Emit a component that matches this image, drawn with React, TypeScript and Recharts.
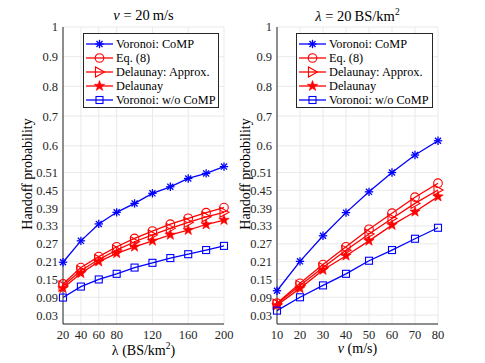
import React from "react";
import { LineChart, Line, XAxis, YAxis, CartesianGrid, Legend } from "recharts";

// left panel: v = 20 m/s, x = BS density
const lambdaX = [20, 40, 60, 80, 100, 120, 140, 160, 180, 200];
const lambdaTicks = [20, 40, 60, 80, 120, 160, 200];
const lamVoronoiComp = [0.208, 0.28, 0.337, 0.376, 0.406, 0.44, 0.462, 0.49, 0.507, 0.53];
const lamEq8 = [0.135, 0.19, 0.227, 0.26, 0.288, 0.313, 0.336, 0.356, 0.375, 0.392];
const lamDelApprox = [0.128, 0.18, 0.217, 0.249, 0.277, 0.3, 0.322, 0.342, 0.361, 0.376];
const lamDelaunay = [0.12, 0.171, 0.21, 0.238, 0.26, 0.28, 0.3, 0.316, 0.335, 0.35];
const lamVoronoiNoComp = [0.089, 0.126, 0.15, 0.169, 0.19, 0.206, 0.222, 0.235, 0.249, 0.263];

// right panel: lambda = 20 BS/km^2, x = speed
const speedX = [10, 20, 30, 40, 50, 60, 70, 80];
const spdVoronoiComp = [0.112, 0.211, 0.297, 0.375, 0.445, 0.51, 0.569, 0.617];
const spdEq8 = [0.07, 0.137, 0.2, 0.26, 0.319, 0.373, 0.427, 0.474];
const spdDelApprox = [0.067, 0.13, 0.19, 0.248, 0.303, 0.355, 0.406, 0.451];
const spdDelaunay = [0.063, 0.12, 0.182, 0.23, 0.28, 0.333, 0.378, 0.429];
const spdVoronoiNoComp = [0.045, 0.09, 0.13, 0.169, 0.213, 0.249, 0.287, 0.324];

const yTicks = [0.03, 0.09, 0.15, 0.21, 0.27, 0.33, 0.39, 0.45, 0.51, 0.6, 0.7, 0.8, 0.9, 1];

const FONT = "'Liberation Serif', 'Times New Roman', Times, 'DejaVu Serif', serif";
const BLUE = "#0000ff";
const RED = "#ff0000";
const AXIS = "#262626";

type Shape = "asterisk" | "circle" | "triangle" | "star" | "square";

const seriesDefs: { key: string; name: string; color: string; shape: Shape }[] = [
  { key: "vc", name: "Voronoi: CoMP", color: BLUE, shape: "asterisk" },
  { key: "eq", name: "Eq. (8)", color: RED, shape: "circle" },
  { key: "da", name: "Delaunay: Approx.", color: RED, shape: "triangle" },
  { key: "de", name: "Delaunay", color: RED, shape: "star" },
  { key: "vn", name: "Voronoi: w/o CoMP", color: BLUE, shape: "square" },
];

function Marker({ x, y, shape, color }: { x: number; y: number; shape: Shape; color: string }) {
  if (shape === "asterisk") {
    const r = 4.2;
    const d = r * 0.72;
    return (
      <g stroke={color} strokeWidth={1.3}>
        <line x1={x - r} y1={y} x2={x + r} y2={y} />
        <line x1={x} y1={y - r} x2={x} y2={y + r} />
        <line x1={x - d} y1={y - d} x2={x + d} y2={y + d} />
        <line x1={x - d} y1={y + d} x2={x + d} y2={y - d} />
      </g>
    );
  }
  if (shape === "circle") {
    return <circle cx={x} cy={y} r={4.3} fill="none" stroke={color} strokeWidth={1.1} />;
  }
  if (shape === "triangle") {
    const pts = `${x + 5},${y} ${x - 4},${y - 5} ${x - 4},${y + 5}`;
    return <polygon points={pts} fill="none" stroke={color} strokeWidth={1.1} />;
  }
  if (shape === "star") {
    const pts: string[] = [];
    for (let i = 0; i < 10; i++) {
      const r = i % 2 === 0 ? 5.5 : 2.2;
      const a = -Math.PI / 2 + (i * Math.PI) / 5;
      pts.push(`${x + r * Math.cos(a)},${y + r * Math.sin(a)}`);
    }
    return <polygon points={pts.join(" ")} fill={color} stroke={color} strokeWidth={0.6} />;
  }
  return <rect x={x - 3.5} y={y - 3.5} width={7} height={7} fill="none" stroke={color} strokeWidth={1.1} />;
}

function LegendBox() {
  return (
    <div
      style={{
        border: `1px solid ${AXIS}`,
        background: "#fff",
        boxSizing: "border-box",
        width: "100%",
        height: "100%",
        padding: "3px 0 0 0",
        fontFamily: FONT,
        fontSize: 12.3,
        color: "#000",
      }}
    >
      {seriesDefs.map((s) => (
        <div key={s.key} style={{ display: "flex", alignItems: "center", height: 14 }}>
          <svg width={32} height={14} style={{ flex: "none" }}>
            <line x1={2} y1={7} x2={29} y2={7} stroke={s.color} strokeWidth={1.3} />
            <Marker x={15.5} y={7} shape={s.shape} color={s.color} />
          </svg>
          <span style={{ whiteSpace: "nowrap", lineHeight: "14px" }}>{s.name}</span>
        </div>
      ))}
    </div>
  );
}

function buildRows(xs: number[], cols: number[][]) {
  return xs.map((x, i) => ({
    x,
    vc: cols[0][i],
    eq: cols[1][i],
    da: cols[2][i],
    de: cols[3][i],
    vn: cols[4][i],
  }));
}

const leftData = buildRows(lambdaX, [lamVoronoiComp, lamEq8, lamDelApprox, lamDelaunay, lamVoronoiNoComp]);
const rightData = buildRows(speedX, [spdVoronoiComp, spdEq8, spdDelApprox, spdDelaunay, spdVoronoiNoComp]);

const tickStyle = { fill: AXIS, fontSize: 12.5, fontFamily: FONT };

interface PanelProps {
  data: any[];
  width: number;
  yAxisWidth: number;
  marginRight: number;
  domain: [number, number];
  xTicks: number[];
  legendLeft: number;
  legendWidth: number;
}

function Panel({ data, width, yAxisWidth, marginRight, domain, xTicks, legendLeft, legendWidth }: PanelProps) {
  return (
    <LineChart width={width} height={363} data={data} margin={{ top: 27, right: marginRight, bottom: 0, left: 0 }} style={{ fontFamily: FONT }}>
      <CartesianGrid stroke="#e4e4e4" strokeWidth={0.8} />
      <XAxis
        dataKey="x"
        type="number"
        domain={domain}
        ticks={xTicks}
        height={39}
        tickSize={4}
        tickLine={false}
        tick={tickStyle}
        stroke={AXIS}
        interval={0}
      />
      <XAxis xAxisId="top" orientation="top" dataKey="x" type="number" domain={domain} height={0} tick={false} tickLine={false} stroke={AXIS} />
      <YAxis
        type="number"
        domain={[0, 1]}
        ticks={yTicks}
        width={yAxisWidth}
        tickSize={3}
        tickLine={false}
        tick={tickStyle}
        stroke={AXIS}
        interval={0}
      />
      <YAxis yAxisId="right" orientation="right" domain={[0, 1]} width={0} tick={false} tickLine={false} stroke={AXIS} />
      <Legend
        layout="horizontal"
        verticalAlign="middle"
        align="center"
        content={() => <LegendBox />}
        wrapperStyle={{ left: legendLeft, top: 33, width: legendWidth, height: 75 }}
      />
      {seriesDefs.map((s) => (
        <Line
          key={s.key}
          dataKey={s.key}
          name={s.name}
          stroke={s.color}
          strokeWidth={1.3}
          isAnimationActive={false}
          dot={(p: any) => <Marker key={`${s.key}-${p.index}`} x={p.cx} y={p.cy} shape={s.shape} color={s.color} />}
          activeDot={false}
        />
      ))}
    </LineChart>
  );
}

const abs = (left: number, top: number): React.CSSProperties => ({ position: "absolute", left, top });

export default function App() {
  return (
    <div style={{ position: "fixed", left: 0, top: 0, width: 485, height: 363, background: "#fff", fontFamily: FONT, color: "#000" }}>
      <div style={abs(0, 0)}>
        <Panel data={leftData} width={245} yAxisWidth={63} marginRight={21} domain={[20, 200]} xTicks={lambdaTicks} legendLeft={83} legendWidth={136} />
      </div>
      <div style={abs(230, 0)}>
        <Panel data={rightData} width={255} yAxisWidth={47} marginRight={47} domain={[10, 80]} xTicks={speedX} legendLeft={66} legendWidth={137} />
      </div>
      {/* titles */}
      <div style={{ ...abs(63, 7), width: 161, textAlign: "center", fontSize: 14.5, whiteSpace: "nowrap" }}>
        <i>v</i> = 20<span style={{ marginLeft: 3 }}>m/s</span>
      </div>
      <div style={{ ...abs(277, 7), width: 161, textAlign: "center", fontSize: 14.5, whiteSpace: "nowrap" }}>
        <i>λ</i> = 20<span style={{ marginLeft: 3 }}>BS/km</span><sup style={{ fontSize: 9.5 }}>2</sup>
      </div>
      {/* x labels */}
      <div style={{ ...abs(63, 341), width: 161, textAlign: "center", fontSize: 14, whiteSpace: "nowrap" }}>
        λ (BS/km<sup style={{ fontSize: 9.5 }}>2</sup>)
      </div>
      <div style={{ ...abs(277, 341), width: 161, textAlign: "center", fontSize: 14, whiteSpace: "nowrap" }}>
        <i>v</i> (m/s)
      </div>
      {/* y labels */}
      <div style={{ ...abs(28 - 80, 175 - 9), width: 160, textAlign: "center", fontSize: 14, transform: "rotate(-90deg)", whiteSpace: "nowrap" }}>
        Handoff probability
      </div>
      <div style={{ ...abs(246 - 80, 175 - 9), width: 160, textAlign: "center", fontSize: 14, transform: "rotate(-90deg)", whiteSpace: "nowrap" }}>
        Handoff probability
      </div>
    </div>
  );
}
